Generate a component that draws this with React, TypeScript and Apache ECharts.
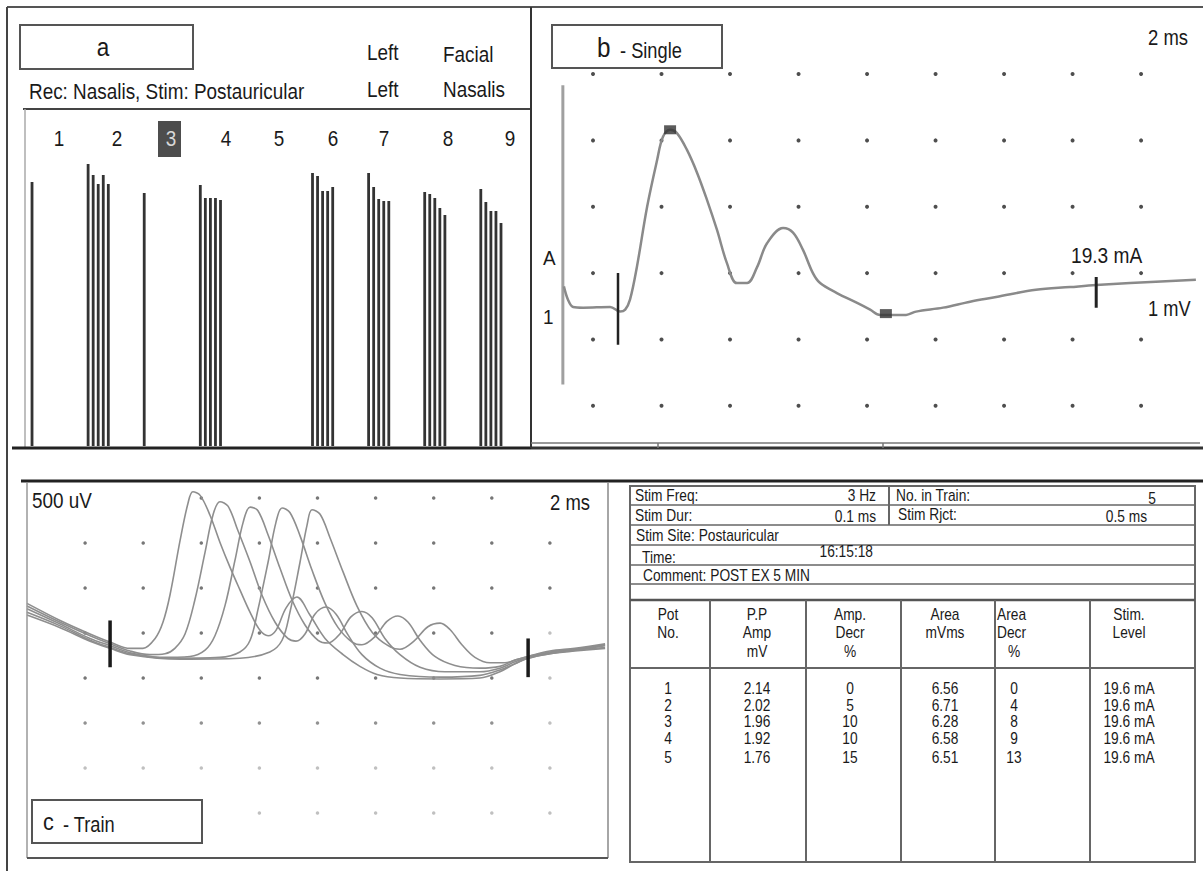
import React, { useEffect, useRef } from "react";
import * as echarts from "echarts";

// ---------- Panel a : train amplitudes (arbitrary units), train 5 empty ----------
const trainLabels = ["1", "2", "3", "4", "5", "6", "7", "8", "9"];
const trainAmps: number[][] = [
  [2.64],
  [2.82, 2.71, 2.62, 2.71, 2.62],
  [2.53],
  [2.61, 2.48, 2.48, 2.48, 2.46],
  [],
  [2.73, 2.7, 2.55, 2.55, 2.59],
  [2.73, 2.59, 2.47, 2.45, 2.45],
  [2.54, 2.52, 2.48, 2.38, 2.31],
  [2.57, 2.44, 2.35, 2.35, 2.23],
];
const potStep = 0.09; // spacing of pots within a train (train units)

// ---------- Panel b : single response (ms, mV) ----------
const singleTrace: number[][] = [
  [1.15, -0.2], [1.27, -0.4], [1.42, -0.51], [1.71, -0.52], [2.5, -0.51], [2.79, -0.58],
  [2.94, -0.55], [3.08, -0.4], [3.28, 0.09], [3.58, 1.0], [3.87, 1.7], [4.04, 2.05],
  [4.25, 2.16], [4.45, 2.11], [4.74, 1.86], [5.04, 1.51], [5.33, 1.1], [5.62, 0.65],
  [5.91, 0.15], [6.2, -0.15], [6.5, -0.15], [6.79, 0.09], [7.08, 0.45], [7.55, 0.68],
  [7.84, 0.61], [8.13, 0.35], [8.42, 0.0], [8.63, -0.15], [9.12, -0.3], [9.71, -0.45],
  [10.09, -0.55], [10.38, -0.63], [10.85, -0.63], [11.14, -0.63], [11.43, -0.58],
  [12.22, -0.52], [13.01, -0.43], [13.77, -0.36], [14.93, -0.25], [15.93, -0.21],
  [16.69, -0.18], [17.68, -0.15], [19.6, -0.1],
];
const singleCalib: number[][] = [[1.12, 2.83], [1.12, -1.68]];
const singleStim1: number[][] = [[2.73, 0.0], [2.73, -1.08]];
const singleStim2: number[][] = [[16.69, -0.06], [16.69, -0.52]];
const singleMarks: number[][] = [[4.25, 2.16], [10.55, -0.61]];
const bCols = [2, 4, 6, 8, 10, 12, 14, 16, 18];
const bRows = [3, 2, 1, 0, -1, -2];

// ---------- Panel c : train of 5 responses (ms, mV) ----------
const train1: number[][] = [
  [0, 0.83], [1.14, 0.64], [2.17, 0.49], [2.86, 0.4], [3.55, 0.33], [3.99, 0.33], [4.41, 0.44],
  [4.68, 0.62], [4.92, 0.92], [5.27, 1.53], [5.54, 1.94], [5.71, 2.07], [5.96, 2.03], [6.3, 1.81],
  [6.64, 1.51], [6.99, 1.23], [7.33, 0.98], [7.68, 0.73], [8.02, 0.53], [8.3, 0.47], [8.57, 0.53],
  [8.92, 0.78], [9.29, 0.9], [9.74, 0.7], [10.26, 0.44], [10.88, 0.26], [11.46, 0.13], [12.05, 0.04],
  [12.84, 0.0], [14.22, -0.01], [15.59, 0.0], [16.28, 0.07], [16.8, 0.16], [17.25, 0.22],
  [18.0, 0.27], [18.86, 0.3], [19.9, 0.33],
];
const train2: number[][] = [
  [0, 0.8], [1.14, 0.62], [2.17, 0.47], [2.86, 0.38], [3.55, 0.3], [4.23, 0.26], [4.75, 0.27],
  [5.09, 0.33], [5.44, 0.49], [5.78, 0.87], [6.13, 1.4], [6.4, 1.81], [6.64, 1.96], [6.92, 1.91],
  [7.26, 1.64], [7.68, 1.29], [8.09, 0.92], [8.54, 0.62], [8.98, 0.44], [9.26, 0.41], [9.57, 0.49],
  [9.91, 0.71], [10.29, 0.79], [10.64, 0.71], [11.05, 0.48], [11.53, 0.26], [12.15, 0.11],
  [12.84, 0.04], [14.22, 0.01], [15.59, 0.03], [16.28, 0.09], [16.8, 0.16], [17.25, 0.22],
  [18.0, 0.27], [18.86, 0.31], [19.9, 0.34],
];
const train3: number[][] = [
  [0, 0.77], [1.14, 0.6], [2.17, 0.44], [2.86, 0.36], [3.55, 0.28], [4.58, 0.23], [5.61, 0.24],
  [6.13, 0.31], [6.47, 0.47], [6.82, 0.81], [7.16, 1.31], [7.44, 1.73], [7.68, 1.9], [7.95, 1.86],
  [8.3, 1.59], [8.71, 1.22], [9.12, 0.87], [9.57, 0.59], [10.02, 0.42], [10.36, 0.39], [10.77, 0.49],
  [11.15, 0.68], [11.53, 0.74], [11.88, 0.67], [12.32, 0.44], [12.84, 0.26], [13.53, 0.12],
  [14.39, 0.07], [15.59, 0.07], [16.28, 0.11], [16.8, 0.18], [17.25, 0.23], [18.0, 0.28],
  [18.86, 0.31], [19.9, 0.36],
];
const train4: number[][] = [
  [0, 0.73], [1.14, 0.58], [2.17, 0.42], [2.86, 0.34], [3.55, 0.27], [4.92, 0.22], [6.64, 0.23],
  [7.33, 0.29], [7.68, 0.42], [7.95, 0.76], [8.3, 1.29], [8.57, 1.73], [8.78, 1.89], [9.05, 1.84],
  [9.4, 1.58], [9.81, 1.2], [10.26, 0.83], [10.71, 0.56], [11.19, 0.4], [11.53, 0.37], [11.98, 0.46],
  [12.39, 0.63], [12.77, 0.69], [13.12, 0.62], [13.53, 0.42], [14.04, 0.24], [14.73, 0.14],
  [15.59, 0.11], [16.28, 0.13], [16.8, 0.2], [17.25, 0.24], [18.0, 0.29], [18.86, 0.32], [19.9, 0.37],
];
const train5: number[][] = [
  [0, 0.7], [1.14, 0.56], [2.17, 0.41], [2.86, 0.33], [3.55, 0.26], [5.27, 0.21], [7.33, 0.22],
  [8.36, 0.29], [8.78, 0.42], [9.05, 0.73], [9.4, 1.29], [9.64, 1.7], [9.81, 1.87], [10.09, 1.82],
  [10.43, 1.56], [10.88, 1.18], [11.36, 0.8], [11.88, 0.51], [12.43, 0.36], [12.84, 0.32],
  [13.32, 0.41], [13.8, 0.57], [14.22, 0.61], [14.56, 0.54], [14.97, 0.37], [15.42, 0.23],
  [15.94, 0.17], [16.45, 0.17], [16.9, 0.21], [17.25, 0.24], [18.0, 0.3], [18.86, 0.33], [19.9, 0.38],
];
const trainStim1: number[][] = [[2.86, 0.64], [2.86, 0.12]];
const trainStim2: number[][] = [[17.25, 0.44], [17.25, 0.01]];
const cCols = [2, 4, 6, 8, 10, 12, 14, 16, 18];
const cRows = [2, 1.5, 1, 0.5, 0, -0.5, -1, -1.5];

// ---------- Table ----------
const potNo = ["1", "2", "3", "4", "5"];
const ppAmp = ["2.14", "2.02", "1.96", "1.92", "1.76"];
const ampDecr = ["0", "5", "10", "10", "15"];
const areaMVms = ["6.56", "6.71", "6.28", "6.58", "6.51"];
const areaDecr = ["0", "4", "8", "9", "13"];
const stimLevel = ["19.6 mA", "19.6 mA", "19.6 mA", "19.6 mA", "19.6 mA"];

const FONT = '"Liberation Sans", Arial, Helvetica, sans-serif';

function txt(text: string, x: number, y: number, size: number, o: any = {}) {
  const align = o.align ?? "left";
  return {
    type: "text",
    x,
    y,
    z: o.z ?? 130,
    scaleX: o.sx ?? 0.86,
    style: {
      text,
      fill: o.fill ?? "#1a1a1a",
      fontSize: size,
      fontFamily: FONT,
      textAlign: align,
      align,
      textVerticalAlign: "middle",
      verticalAlign: "middle",
    },
  };
}
function ln(x1: number, y1: number, x2: number, y2: number, color = "#555", w = 2, z = 110) {
  return { type: "line", z, shape: { x1, y1, x2, y2 }, style: { stroke: color, lineWidth: w } };
}
function box(x: number, y: number, w: number, h: number, stroke = "#555", lw = 2, fill = "#fff", z = 120) {
  return { type: "rect", z, shape: { x, y, width: w, height: h }, style: { fill, stroke, lineWidth: lw } };
}

export default function App() {
  const ref = useRef<HTMLDivElement>(null);

  useEffect(() => {
    if (!ref.current) return;
    const chart = echarts.init(ref.current, undefined, { renderer: "svg" });

    // bars of panel a
    const barData: number[][] = [];
    trainAmps.forEach((amps, g) => amps.forEach((a, k) => barData.push([g + k * potStep, a])));

    // dot grids
    const dotsB: number[][] = [];
    bRows.forEach((v) => bCols.forEach((t) => dotsB.push([t, v])));
    const dotsC: any[] = [];
    cRows.forEach((v) =>
      cCols.forEach((t) => {
        if (v === 2 && (t === 2 || t === 4 || t === 18)) return;
        if (v === -1.5 && t <= 6) return;
        const light = v <= -1 || (t === 18 && v < 1);
        dotsC.push({ value: [t, v], itemStyle: { color: light ? "#b0b0b0" : v < 0 ? "#777" : "#555" } });
      })
    );

    const lineS = (data: number[][], xi: number, color: string, width: number, smooth: any = false, z = 3) => ({
      type: "line",
      xAxisIndex: xi,
      yAxisIndex: xi,
      data,
      smooth,
      symbol: "none",
      silent: true,
      z,
      lineStyle: { color, width },
    });

    // labels / boxes / frames
    const labelX = [59, 117, 171, 226, 279, 333, 384, 448, 510];
    const graphics: any[] = [
      // outer frame
      ln(7, 7, 1203, 7, "#555", 2),
      ln(7, 7, 7, 871, "#444", 2),
      // panel a
      ln(23, 109, 531, 109, "#444", 2),
      ln(25, 109, 25, 447, "#aaa", 1.5),
      ln(12, 448, 531, 448, "#222", 3),
      box(20, 25, 173, 44),
      txt("a", 103, 47, 25, { align: "center", sx: 0.9 }),
      txt("Left", 367, 52, 22),
      txt("Facial", 443, 54, 22),
      txt("Rec: Nasalis, Stim: Postauricular", 29, 91, 22),
      txt("Left", 367, 89, 22),
      txt("Nasalis", 443, 89, 22),
      { type: "rect", z: 120, shape: { x: 158, y: 121, width: 23, height: 36 }, style: { fill: "#4d4d4d" } },
      ...trainLabels.map((l, i) =>
        txt(l, labelX[i], 138, 22, { align: "center", fill: i === 2 ? "#d8d8d8" : "#1a1a1a" })
      ),
      // panel b
      ln(531, 7, 531, 448, "#333", 2),
      ln(531, 443, 1200, 443, "#777", 1.5),
      ln(531, 448, 1203, 448, "#333", 3),
      ln(658, 443, 658, 448, "#777", 1.5),
      ln(883, 443, 883, 448, "#777", 1.5),
      box(552, 25, 170, 43),
      txt("b", 597, 48, 27, { sx: 0.9 }),
      txt("- Single", 620, 50, 22, { sx: 0.83 }),
      txt("2 ms", 1148, 37, 22, { sx: 0.84 }),
      txt("19.3 mA", 1071, 255, 22, { sx: 0.87 }),
      txt("1 mV", 1148, 308, 22, { sx: 0.83 }),
      txt("A", 543, 258, 21, { sx: 0.9 }),
      txt("1", 543, 317, 21, { sx: 0.9 }),
      // panel c
      ln(21, 481, 1203, 481, "#222", 3),
      ln(27, 483, 27, 858, "#999", 1.5),
      ln(608, 483, 608, 858, "#888", 1.5),
      ln(27, 858, 608, 858, "#555", 2),
      txt("500 uV", 32, 500, 22, { sx: 0.86 }),
      txt("2 ms", 550, 502, 22, { sx: 0.84 }),
      box(32, 800, 170, 43),
      txt("c", 43, 822, 24, { sx: 0.9 }),
      txt("- Train", 63, 824, 22, { sx: 0.83 }),
      // table frame
      box(630, 486, 565, 376, "#666", 2, "#fff", 5),
      ln(630, 505, 1195, 505, "#666", 1.5),
      ln(630, 525, 1195, 525, "#666", 1.5),
      ln(630, 545, 1195, 545, "#666", 1.5),
      ln(630, 565, 1195, 565, "#666", 1.5),
      ln(630, 584, 1195, 584, "#666", 1.5),
      ln(630, 600, 1195, 600, "#555", 2.5),
      ln(630, 668, 1195, 668, "#666", 2),
      ln(889, 486, 889, 525, "#666", 2),
      ...[710, 806, 901, 995, 1090].map((x) => ln(x, 600, x, 862, "#666", 2)),
      txt("Stim Freq:", 635, 495, 16),
      txt("3 Hz", 876, 495, 16, { align: "right" }),
      txt("No. in Train:", 896, 495, 16),
      txt("5", 1152, 498, 16, { align: "center" }),
      txt("Stim Dur:", 635, 515, 16),
      txt("0.1 ms", 876, 516, 16, { align: "right" }),
      txt("Stim Rjct:", 898, 514, 16),
      txt("0.5 ms", 1147, 516, 16, { align: "right" }),
      txt("Stim Site: Postauricular", 636, 535, 16),
      txt("Time:", 642, 557, 16),
      txt("16:15:18", 873, 551, 16, { align: "right" }),
      txt("Comment: POST EX 5 MIN", 643, 575, 16),
    ];

    // table header & body
    const hdrY = [614, 632, 651];
    const headers: [string[], number, string][] = [
      [["Pot", "No."], 668, "center"],
      [["P.P", "Amp", "mV"], 757, "center"],
      [["Amp.", "Decr", "%"], 850, "center"],
      [["Area", "mVms"], 945, "center"],
      [["Area", "Decr"], 997, "left"],
      [["Stim.", "Level"], 1129, "center"],
    ];
    headers.forEach(([lines, x, align]) =>
      lines.forEach((l, i) => graphics.push(txt(l, x, hdrY[i], 16, { align })))
    );
    graphics.push(txt("%", 1014, hdrY[2], 16, { align: "center" }));
    const rowY = [688, 705, 721, 738, 757];
    const cols: [string[], number][] = [
      [potNo, 668],
      [ppAmp, 757],
      [ampDecr, 850],
      [areaMVms, 945],
      [areaDecr, 1014],
      [stimLevel, 1129],
    ];
    cols.forEach(([vals, x]) => vals.forEach((v, i) => graphics.push(txt(v, x, rowY[i], 16, { align: "center" }))));

    chart.setOption({
      animation: false,
      backgroundColor: "#ffffff",
      grid: [
        { left: 24, top: 109, width: 506, height: 337 },
        { left: 531, top: 7, width: 669, height: 440 },
        { left: 27, top: 481, width: 581, height: 377 },
      ],
      xAxis: [
        { gridIndex: 0, type: "value", min: -0.143, max: 8.877, show: false },
        { gridIndex: 1, type: "value", min: 0.19, max: 19.72, show: false },
        { gridIndex: 2, type: "value", min: 0, max: 20, show: false },
      ],
      yAxis: [
        { gridIndex: 0, type: "value", min: 0, max: 3.37, show: false },
        { gridIndex: 1, type: "value", min: -2.62, max: 4.01, show: false },
        { gridIndex: 2, type: "value", min: -2.0, max: 2.19, show: false },
      ],
      series: [
        {
          type: "bar",
          xAxisIndex: 0,
          yAxisIndex: 0,
          barWidth: 2.8,
          data: barData,
          itemStyle: { color: "#333" },
          silent: true,
        },
        {
          type: "scatter",
          xAxisIndex: 1,
          yAxisIndex: 1,
          data: dotsB,
          symbolSize: 4,
          itemStyle: { color: "#222" },
          silent: true,
          z: 2,
        },
        lineS(singleCalib, 1, "#a0a0a0", 3),
        lineS(singleTrace, 1, "#8a8a8a", 2.5, 0.35),
        lineS(singleStim1, 1, "#222", 2.5, false, 4),
        lineS(singleStim2, 1, "#222", 3, false, 4),
        {
          type: "scatter",
          xAxisIndex: 1,
          yAxisIndex: 1,
          data: singleMarks,
          symbol: "rect",
          symbolSize: [12, 9],
          itemStyle: { color: "#333" },
          silent: true,
          z: 5,
        },
        {
          type: "scatter",
          xAxisIndex: 2,
          yAxisIndex: 2,
          data: dotsC,
          symbolSize: 3.5,
          silent: true,
          z: 2,
        },
        lineS(train1, 2, "#8e8e8e", 1.6, 0.35),
        lineS(train2, 2, "#8e8e8e", 1.6, 0.35),
        lineS(train3, 2, "#8e8e8e", 1.6, 0.35),
        lineS(train4, 2, "#8e8e8e", 1.6, 0.35),
        lineS(train5, 2, "#8e8e8e", 1.6, 0.35),
        lineS(trainStim1, 2, "#1a1a1a", 3.5, false, 4),
        lineS(trainStim2, 2, "#1a1a1a", 3.5, false, 4),
      ],
      graphic: { elements: graphics },
    });

    return () => chart.dispose();
  }, []);

  return (
    <div
      ref={ref}
      style={{ position: "fixed", left: 0, top: 0, width: 1203, height: 873, background: "#fff" }}
    />
  );
}
